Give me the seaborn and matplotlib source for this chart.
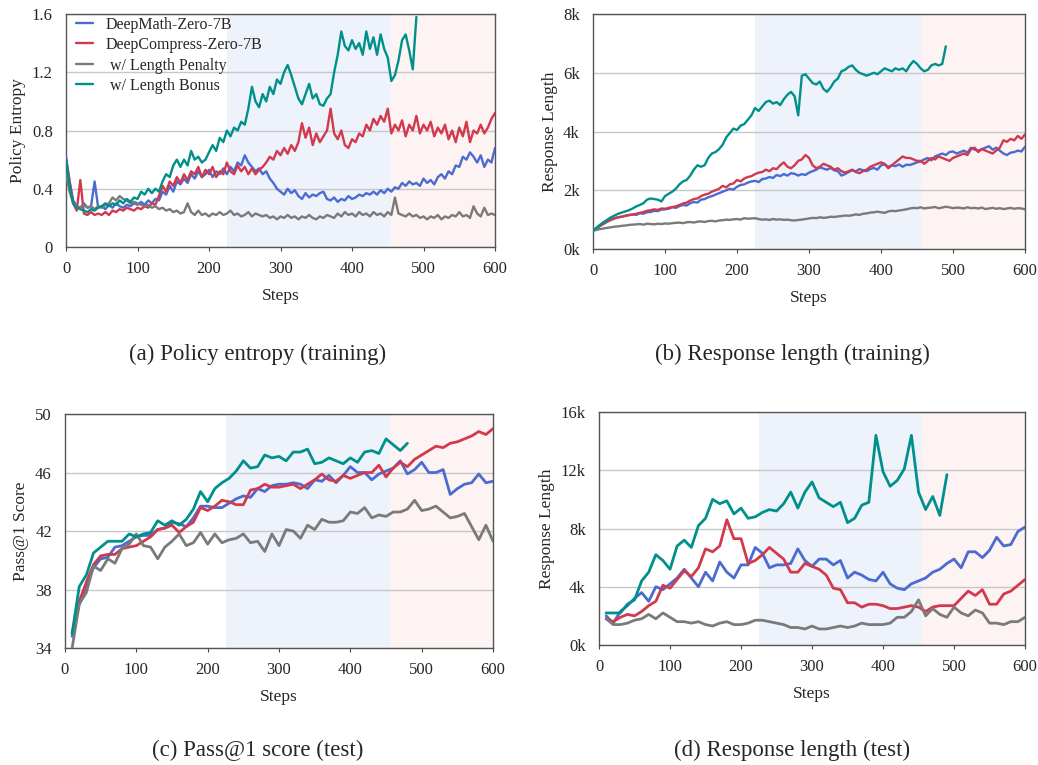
import numpy as np
import pandas as pd
import matplotlib
matplotlib.use("Agg")
import matplotlib.pyplot as plt
import seaborn as sns

# =====================
# DATA
# =====================
METHODS = ["DeepMath-Zero-7B", "DeepCompress-Zero-7B", " w/ Length Penalty", " w/ Length Bonus"]
COLORS = ["#4a6bd0", "#d2394d", "#7a7a7a", "#00908b"]

# training curves, one value every 5 steps from step 0
TRAIN_STEP = 5
entropy_math = [0.62, 0.45, 0.32, 0.28, 0.27, 0.3, 0.27, 0.28, 0.45, 0.27, 0.28, 0.26, 0.29, 0.27, 0.3, 0.28,
                0.27, 0.29, 0.28, 0.3, 0.29, 0.31, 0.29, 0.32, 0.3, 0.33, 0.32, 0.38, 0.36, 0.42, 0.38, 0.45,
                0.43, 0.47, 0.44, 0.5, 0.47, 0.52, 0.48, 0.5, 0.53, 0.48, 0.52, 0.5, 0.54, 0.5, 0.55, 0.52,
                0.58, 0.56, 0.63, 0.58, 0.55, 0.52, 0.54, 0.5, 0.52, 0.47, 0.44, 0.4, 0.38, 0.36, 0.4, 0.37,
                0.39, 0.35, 0.33, 0.37, 0.34, 0.36, 0.35, 0.37, 0.38, 0.33, 0.32, 0.34, 0.31, 0.33, 0.32, 0.35,
                0.33, 0.34, 0.36, 0.35, 0.37, 0.36, 0.38, 0.36, 0.39, 0.37, 0.4, 0.38, 0.41, 0.4, 0.44, 0.42,
                0.45, 0.43, 0.44, 0.42, 0.47, 0.44, 0.46, 0.43, 0.48, 0.5, 0.47, 0.52, 0.5, 0.56, 0.55, 0.62,
                0.6, 0.65, 0.62, 0.58, 0.63, 0.55, 0.6, 0.58, 0.68]
entropy_compress = [0.6, 0.45, 0.3, 0.25, 0.46, 0.23, 0.22, 0.24, 0.22, 0.23, 0.22, 0.24, 0.22, 0.25, 0.24, 0.26,
                    0.25, 0.27, 0.26, 0.25, 0.27, 0.26, 0.28, 0.27, 0.3, 0.29, 0.35, 0.42, 0.38, 0.45, 0.42, 0.48,
                    0.44, 0.5, 0.46, 0.52, 0.5, 0.55, 0.48, 0.53, 0.5, 0.55, 0.48, 0.52, 0.5, 0.58, 0.52, 0.5,
                    0.56, 0.52, 0.55, 0.5, 0.54, 0.5, 0.53, 0.55, 0.58, 0.62, 0.6, 0.66, 0.63, 0.68, 0.64, 0.7,
                    0.66, 0.72, 0.85, 0.75, 0.82, 0.7, 0.78, 0.72, 0.76, 0.8, 0.95, 0.78, 0.74, 0.8, 0.7, 0.68,
                    0.74, 0.72, 0.78, 0.76, 0.84, 0.8, 0.88, 0.84, 0.9, 0.86, 0.95, 0.78, 0.84, 0.8, 0.87, 0.76,
                    0.84, 0.8, 0.9, 0.78, 0.84, 0.8, 0.86, 0.76, 0.82, 0.78, 0.84, 0.74, 0.8, 0.72, 0.82, 0.76,
                    0.86, 0.72, 0.8, 0.78, 0.84, 0.78, 0.82, 0.88, 0.92]
entropy_penalty = [0.5, 0.38, 0.3, 0.28, 0.27, 0.29, 0.27, 0.28, 0.26, 0.28, 0.27, 0.29, 0.3, 0.34, 0.32, 0.35,
                   0.33, 0.32, 0.3, 0.31, 0.3, 0.29, 0.28, 0.29, 0.27, 0.28, 0.26, 0.27, 0.25, 0.26, 0.24, 0.25,
                   0.23, 0.24, 0.3, 0.24, 0.22, 0.25, 0.22, 0.23, 0.21, 0.23, 0.22, 0.24, 0.22, 0.23, 0.25, 0.22,
                   0.23, 0.21, 0.22, 0.24, 0.21, 0.23, 0.22, 0.21, 0.22, 0.2, 0.21, 0.19, 0.21, 0.2, 0.22, 0.2,
                   0.21, 0.19, 0.21, 0.2, 0.22, 0.2, 0.19, 0.21, 0.2, 0.22, 0.21, 0.2, 0.23, 0.21, 0.24, 0.22,
                   0.23, 0.21, 0.24, 0.22, 0.23, 0.21, 0.24, 0.22, 0.23, 0.21, 0.24, 0.22, 0.34, 0.23, 0.22, 0.21,
                   0.23, 0.21, 0.22, 0.2, 0.21, 0.19, 0.21, 0.2, 0.22, 0.19, 0.21, 0.2, 0.22, 0.21, 0.24, 0.21,
                   0.22, 0.2, 0.28, 0.23, 0.21, 0.27, 0.22, 0.23, 0.22]
entropy_bonus = [0.6, 0.42, 0.3, 0.27, 0.26, 0.25, 0.24, 0.26, 0.25, 0.27, 0.28, 0.3, 0.28, 0.3, 0.29, 0.32,
                 0.3, 0.33, 0.31, 0.34, 0.33, 0.38, 0.36, 0.4, 0.37, 0.4, 0.38, 0.45, 0.5, 0.48, 0.56, 0.6,
                 0.55, 0.6, 0.56, 0.66, 0.6, 0.62, 0.58, 0.6, 0.65, 0.7, 0.66, 0.75, 0.72, 0.8, 0.76, 0.82,
                 0.8, 0.86, 0.84, 0.95, 1.1, 1.0, 0.96, 1.05, 1.0, 1.1, 1.05, 1.15, 1.12, 1.2, 1.25, 1.18,
                 1.1, 1.02, 0.98, 1.05, 1.12, 1.02, 1.05, 0.98, 0.97, 1.02, 1.05, 1.2, 1.32, 1.48, 1.38, 1.35,
                 1.42, 1.36, 1.4, 1.32, 1.48, 1.36, 1.44, 1.32, 1.46, 1.36, 1.3, 1.14, 1.18, 1.28, 1.42, 1.46,
                 1.35, 1.22, 1.58]

length_math = [620, 700, 790, 860, 930, 990, 1040, 1080, 1100, 1130, 1150, 1180, 1160, 1220, 1200, 1250,
               1260, 1300, 1290, 1340, 1350, 1370, 1420, 1400, 1460, 1500, 1480, 1560, 1600, 1580, 1680, 1700,
               1760, 1800, 1850, 1900, 1950, 2000, 2050, 2020, 2120, 2180, 2200, 2260, 2300, 2320, 2280, 2380,
               2400, 2450, 2420, 2520, 2480, 2550, 2500, 2580, 2560, 2500, 2550, 2520, 2600, 2650, 2700, 2780,
               2740, 2700, 2760, 2680, 2650, 2500, 2550, 2620, 2680, 2640, 2720, 2680, 2650, 2720, 2760, 2700,
               2850, 2880, 2800, 2850, 2820, 2880, 2800, 2870, 2860, 2900, 2950, 2980, 3050, 3100, 3020, 3150,
               3200, 3250, 3200, 3300, 3320, 3250, 3300, 3350, 3280, 3450, 3380, 3350, 3400, 3450, 3500, 3380,
               3450, 3350, 3250, 3200, 3280, 3300, 3350, 3320, 3480]
length_compress = [620, 710, 800, 880, 950, 1000, 1050, 1080, 1100, 1130, 1160, 1170, 1200, 1230, 1260, 1300,
                   1320, 1350, 1330, 1380, 1370, 1400, 1430, 1450, 1500, 1550, 1580, 1650, 1700, 1720, 1800, 1850,
                   1880, 1950, 2000, 2050, 2150, 2100, 2200, 2230, 2350, 2300, 2400, 2450, 2480, 2550, 2600, 2620,
                   2700, 2650, 2750, 2720, 2850, 2950, 2800, 2750, 2850, 3000, 3050, 3200, 3100, 2850, 2750, 2800,
                   2900, 2850, 2800, 2700, 2750, 2650, 2600, 2650, 2700, 2620, 2580, 2650, 2700, 2800, 2850, 2900,
                   2950, 2900, 2750, 2850, 2950, 3050, 3150, 3100, 3100, 3050, 3000, 3000, 2900, 3000, 3100, 3050,
                   3150, 3100, 3050, 3000, 3100, 3150, 3200, 3250, 3200, 3400, 3450, 3300, 3400, 3350, 3300, 3250,
                   3350, 3450, 3700, 3650, 3750, 3700, 3850, 3750, 3900]
length_penalty = [620, 650, 680, 700, 720, 740, 760, 770, 790, 800, 820, 830, 840, 850, 830, 860,
                  850, 840, 860, 850, 870, 860, 880, 890, 900, 880, 910, 920, 900, 930, 940, 920,
                  950, 960, 940, 970, 980, 1000, 990, 1010, 1020, 1000, 1050, 1030, 1040, 1050, 1020, 1000,
                  1010, 990, 1020, 1000, 1010, 990, 1000, 980, 970, 990, 1000, 1020, 1040, 1060, 1050, 1080,
                  1060, 1070, 1100, 1090, 1110, 1120, 1140, 1130, 1150, 1180, 1160, 1200, 1210, 1240, 1250, 1270,
                  1250, 1230, 1280, 1300, 1290, 1310, 1330, 1350, 1380, 1400, 1390, 1420, 1380, 1400, 1410, 1430,
                  1390, 1410, 1440, 1420, 1390, 1410, 1400, 1380, 1420, 1390, 1400, 1380, 1410, 1360, 1380, 1400,
                  1370, 1390, 1360, 1380, 1400, 1370, 1390, 1380, 1350]
length_bonus = [620, 730, 830, 920, 1000, 1080, 1140, 1200, 1240, 1280, 1320, 1380, 1450, 1500, 1560, 1680,
                1720, 1700, 1680, 1620, 1800, 1880, 1950, 2050, 2200, 2300, 2350, 2500, 2700, 2850, 2800, 2850,
                3100, 3250, 3300, 3400, 3550, 3800, 3950, 4100, 4050, 4200, 4250, 4400, 4550, 4800, 4700, 4850,
                5000, 5050, 4950, 5000, 4900, 5100, 5250, 5350, 5200, 4550, 5900, 5950, 5800, 5650, 5600, 5700,
                5450, 5350, 5500, 5700, 5800, 6050, 6100, 6200, 6250, 6100, 6000, 5950, 5900, 5950, 6000, 5950,
                6050, 6150, 6100, 6050, 6150, 6100, 6150, 6050, 6250, 6400, 6300, 6150, 6050, 6100, 6250, 6300,
                6250, 6300, 6900]

# test curves, evaluated every 10 steps from step 10
TEST_STEP = 10
pass_math = [34.8, 37.0, 38.3, 39.5, 40.1, 40.2, 40.9, 41.0, 41.3, 41.6, 41.7, 41.7, 42.1, 42.2, 42.6, 42.5,
             42.3, 42.9, 43.7, 43.7, 43.6, 43.6, 43.9, 44.2, 44.4, 44.3, 44.9, 44.7, 45.1, 45.2, 45.2, 45.3,
             45.2, 44.9, 45.5, 45.4, 45.8, 45.3, 45.8, 46.4, 46.0, 46.0, 45.5, 45.9, 46.1, 46.3, 46.8, 45.9,
             46.2, 46.7, 46.0, 46.0, 46.2, 44.5, 44.9, 45.2, 45.3, 45.9, 45.3, 45.4]
pass_compress = [35.0, 37.2, 38.5, 39.7, 40.3, 40.4, 40.4, 40.8, 40.9, 41.0, 41.3, 41.6, 42.1, 42.2, 42.4, 41.9,
                 42.3, 42.6, 43.6, 43.4, 43.7, 44.1, 44.0, 43.8, 43.8, 44.8, 44.9, 45.2, 45.0, 45.0, 45.1, 45.2,
                 44.9, 45.2, 45.5, 45.9, 45.5, 45.4, 45.8, 45.6, 45.8, 46.0, 46.0, 46.5, 45.7, 46.3, 46.7, 46.4,
                 46.9, 47.2, 47.5, 47.8, 47.7, 48.0, 48.1, 48.3, 48.5, 48.8, 48.6, 49.0]
pass_penalty = [34.0, 37.0, 37.8, 39.6, 39.3, 40.1, 39.8, 40.8, 41.1, 41.8, 41.0, 40.9, 40.1, 40.9, 41.3, 41.8,
                41.0, 41.2, 41.9, 41.1, 41.8, 41.2, 41.4, 41.5, 41.8, 41.2, 41.3, 40.6, 41.8, 41.0, 42.1, 42.0,
                41.5, 42.4, 42.1, 42.8, 42.6, 42.6, 42.7, 43.3, 43.2, 43.6, 42.9, 43.1, 43.0, 43.3, 43.3, 43.5,
                44.1, 43.4, 43.5, 43.7, 43.3, 42.9, 43.0, 43.2, 42.3, 41.4, 42.4, 41.3]
pass_bonus = [35.0, 38.2, 39.0, 40.5, 40.9, 41.3, 41.3, 41.3, 41.8, 41.6, 41.8, 41.9, 42.7, 42.4, 42.7, 42.4,
              42.8, 43.5, 44.7, 44.0, 44.9, 45.3, 45.6, 46.1, 46.8, 46.3, 46.4, 47.2, 47.0, 47.1, 46.8, 47.4,
              47.4, 47.6, 46.6, 46.7, 47.0, 46.8, 46.6, 47.0, 46.7, 47.4, 47.5, 47.3, 48.3, 47.9, 47.5, 48.0]

test_len_math = [2000, 1500, 2300, 2700, 3200, 3600, 3000, 4000, 3800, 4200, 4600, 5200, 4600, 4000, 5000, 4400,
                 5700, 5000, 4600, 5500, 5500, 6700, 6300, 5300, 5500, 5500, 5600, 6600, 5800, 5400, 5900, 5900,
                 5500, 5800, 4600, 5000, 4800, 4500, 4400, 5000, 4200, 3900, 3800, 4200, 4400, 4600, 5000, 5200,
                 5600, 5900, 5300, 6400, 6400, 6000, 6500, 7400, 6800, 6900, 7800, 8100]
test_len_compress = [1800, 1600, 1900, 2100, 2000, 2300, 2700, 3000, 4100, 3900, 4500, 5100, 4700, 5300, 6600, 6400,
                     6800, 8600, 7300, 7300, 5600, 5800, 6200, 6700, 6300, 5900, 5000, 5000, 5600, 5400, 5200, 4800,
                     3900, 3800, 2900, 2900, 2600, 2800, 2800, 2700, 2500, 2500, 2600, 2700, 2600, 2300, 2600, 2700,
                     2700, 2700, 3200, 3700, 3400, 3800, 2800, 2800, 3500, 3700, 4100, 4500]
test_len_penalty = [1800, 1400, 1400, 1500, 1700, 1800, 2100, 1800, 2200, 1900, 1600, 1600, 1500, 1600, 1400, 1300,
                    1500, 1600, 1400, 1400, 1500, 1700, 1700, 1600, 1500, 1400, 1200, 1200, 1100, 1300, 1100, 1100,
                    1200, 1300, 1200, 1300, 1500, 1400, 1400, 1400, 1500, 1900, 1900, 2300, 3100, 2000, 2500, 2100,
                    1900, 2600, 2200, 2000, 2400, 2200, 1500, 1500, 1400, 1600, 1600, 1900]
test_len_bonus = [2200, 2200, 2200, 2800, 3100, 4400, 5000, 6200, 5800, 5200, 6800, 7200, 6700, 8200, 8700, 10000,
                  9700, 9900, 9000, 9400, 8700, 8800, 9100, 9300, 9200, 9700, 10500, 9400, 10500, 11200, 10100, 9800,
                  9500, 9800, 8400, 8700, 9600, 9800, 14400, 11900, 10900, 11300, 12100, 14400, 10500, 9300, 10200, 8900,
                  11700]

PANELS = [
    ("(a) Policy entropy (training)", "Policy Entropy", TRAIN_STEP, 0,
     [entropy_math, entropy_compress, entropy_penalty, entropy_bonus],
     [0, 0.4, 0.8, 1.2, 1.6], ["0", "0.4", "0.8", "1.2", "1.6"]),
    ("(b) Response length (training)", "Response Length", TRAIN_STEP, 0,
     [length_math, length_compress, length_penalty, length_bonus],
     [0, 2000, 4000, 6000, 8000], ["0k", "2k", "4k", "6k", "8k"]),
    ("(c) Pass@1 score (test)", "Pass@1 Score", TEST_STEP, TEST_STEP,
     [pass_math, pass_compress, pass_penalty, pass_bonus],
     [34, 38, 42, 46, 50], ["34", "38", "42", "46", "50"]),
    ("(d) Response length (test)", "Response Length", TEST_STEP, TEST_STEP,
     [test_len_math, test_len_compress, test_len_penalty, test_len_bonus],
     [0, 4000, 8000, 12000, 16000], ["0k", "4k", "8k", "12k", "16k"]),
]

# phase shading
PHASE1 = (225, 455)
PHASE2 = (455, 600)

# =====================
# PLOT
# =====================
sns.set_style("white")
plt.rcParams["font.family"] = ["Liberation Serif", "DejaVu Serif"]

fig = plt.figure(figsize=(10.38, 7.65), dpi=100)
boxes = [
    [0.0636, 0.6771, 0.4133, 0.3046],
    [0.5713, 0.6745, 0.4162, 0.3072],
    [0.0626, 0.1529, 0.4124, 0.3059],
    [0.5771, 0.1569, 0.4104, 0.3045],
]
cap_pos = [(0.2486, 0.523), (0.7630, 0.523), (0.2486, 0.005), (0.7630, 0.005)]

for i, (title, ylabel, step, start, series, yt, ytl) in enumerate(PANELS):
    ax = fig.add_axes(boxes[i])
    ax.axvspan(*PHASE1, color="#eef2fb", lw=0, zorder=0)
    ax.axvspan(*PHASE2, color="#fdf3f3", lw=0, zorder=0)
    lw = 1.7 if step == TRAIN_STEP else 2.0
    for name, col, vals in zip(METHODS, COLORS, series):
        steps = start + step * np.arange(len(vals))
        df = pd.DataFrame({"Steps": steps, "value": vals})
        sns.lineplot(data=df, x="Steps", y="value", ax=ax, color=col, lw=lw,
                     label=name if i == 0 else None, legend=False, zorder=3)
    ax.set_xlim(0, 600)
    ax.set_ylim(yt[0], yt[-1])
    ax.set_xticks([0, 100, 200, 300, 400, 500, 600])
    ax.set_yticks(yt)
    ax.set_yticklabels(ytl)
    ax.yaxis.grid(True, color="#c8c8c8", lw=1.0, zorder=1)
    ax.set_axisbelow(True)
    ax.tick_params(axis="x", bottom=True, length=3, width=0.8, labelsize=12, pad=7, color="#444444")
    ax.tick_params(axis="y", left=False, labelsize=12, pad=6)
    for s in ax.spines.values():
        s.set_color("#555555")
        s.set_linewidth(1.0)
    ax.set_xlabel("Steps", fontsize=12.5, labelpad=8)
    ax.set_ylabel(ylabel, fontsize=12.5, labelpad=4)
    fig.text(cap_pos[i][0], cap_pos[i][1], title, ha="center", va="bottom", fontsize=16.5)
    if i == 0:
        ax.legend(loc="upper left", frameon=False, fontsize=11.5, handlelength=1.1,
                  handletextpad=0.8, labelspacing=0.28, borderaxespad=0.2,
                  bbox_to_anchor=(0.0, 1.03))

fig.savefig("out.png", dpi=100)
